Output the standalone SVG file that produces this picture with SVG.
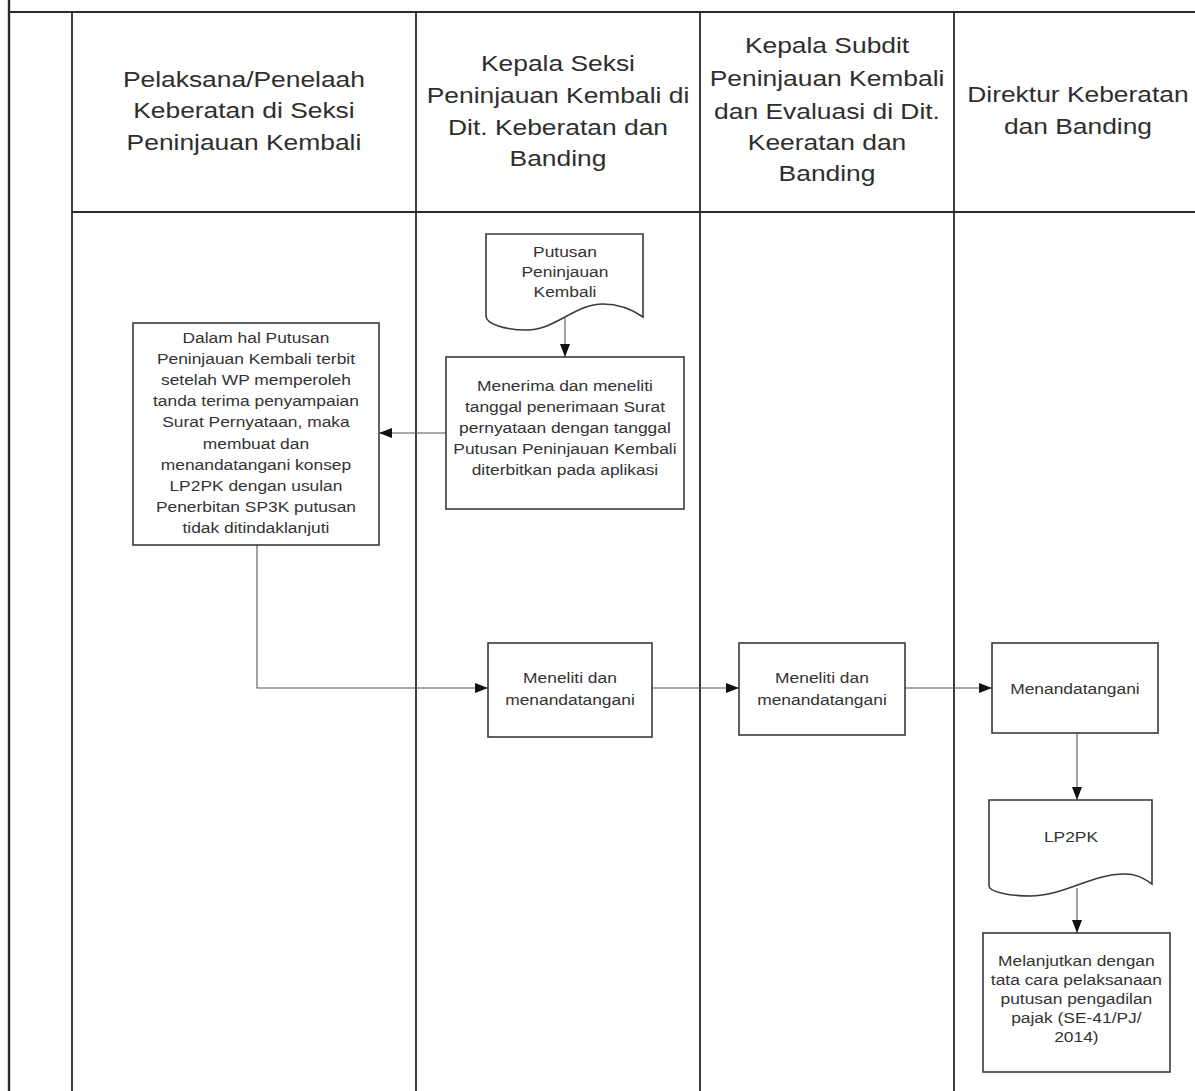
<svg xmlns="http://www.w3.org/2000/svg" width="1195" height="1091" viewBox="0 0 1195 1091">
<style>
.lane{stroke:#2a2a2a;stroke-width:1.8;fill:none}
.box{fill:#fff;stroke:#3a3a3a;stroke-width:1.6}
.con{stroke:#555;stroke-width:1.1;fill:none;marker-end:url(#ah)}
.h{font-family:"Liberation Sans",Arial,sans-serif;font-size:22px;fill:#2e2e2e;text-anchor:middle}
.t{font-family:"Liberation Sans",Arial,sans-serif;font-size:14.5px;fill:#333;text-anchor:middle}
</style>
<defs>
<marker id="ah" viewBox="0 0 13 10" refX="13" refY="5" markerWidth="13" markerHeight="10" markerUnits="userSpaceOnUse" orient="auto">
<path d="M0,0 L13,5 L0,10 Z" fill="#111"/>
</marker>
</defs>
<rect width="1195" height="1091" fill="#fff"/>
<g id="lanes">
<line class="lane" x1="9" y1="0" x2="9" y2="1091" style="stroke-width:2.4"/>
<line class="lane" x1="9" y1="12" x2="1195" y2="12" style="stroke-width:2.2"/>
<line class="lane" x1="72" y1="12" x2="72" y2="1091"/>
<line class="lane" x1="416" y1="12" x2="416" y2="1091"/>
<line class="lane" x1="700" y1="12" x2="700" y2="1091"/>
<line class="lane" x1="954" y1="12" x2="954" y2="1091"/>
<line class="lane" x1="72" y1="212" x2="1195" y2="212"/>
</g>
<g id="headers">
<text class="h" transform="scale(1.2,1)"><tspan x="203.3" y="87">Pelaksana/Penelaah</tspan><tspan x="203.3" y="118.5">Keberatan di Seksi</tspan><tspan x="203.3" y="150">Peninjauan Kembali</tspan></text>
<text class="h" transform="scale(1.2,1)"><tspan x="465" y="71">Kepala Seksi</tspan><tspan x="465" y="103">Peninjauan Kembali di</tspan><tspan x="465" y="135">Dit. Keberatan dan</tspan><tspan x="465" y="166">Banding</tspan></text>
<text class="h" transform="scale(1.2,1)"><tspan x="689.2" y="53">Kepala Subdit</tspan><tspan x="689.2" y="86">Peninjauan Kembali</tspan><tspan x="689.2" y="119">dan Evaluasi di Dit.</tspan><tspan x="689.2" y="150">Keeratan dan</tspan><tspan x="689.2" y="181">Banding</tspan></text>
<text class="h" transform="scale(1.2,1)"><tspan x="898.3" y="102">Direktur Keberatan</tspan><tspan x="898.3" y="134">dan Banding</tspan></text>
</g>
<g id="connectors">
<line class="con" x1="565" y1="318" x2="565" y2="357"/>
<line class="con" x1="446" y1="433" x2="379" y2="433"/>
<polyline class="con" points="257,545 257,688 488,688"/>
<line class="con" x1="652" y1="688" x2="739" y2="688"/>
<line class="con" x1="905" y1="688" x2="992" y2="688"/>
<line class="con" x1="1077" y1="733" x2="1077" y2="800"/>
<line class="con" x1="1077" y1="888" x2="1077" y2="933"/>
</g>
<g id="doc-putusan">
<path class="box" d="M486,234 H643 V317 C630,308 618,304 603,304 C575,304 555,330 527,330 C505,330 486,324 486,316 Z"/>
<text class="t" transform="scale(1.2,1)"><tspan x="470.8" y="257">Putusan</tspan><tspan x="470.8" y="277">Peninjauan</tspan><tspan x="470.8" y="297">Kembali</tspan></text>
</g>
<g id="box-menerima">
<rect class="box" x="446" y="357" width="238" height="152"/>
<text class="t" transform="scale(1.2,1)"><tspan x="470.8" y="391">Menerima dan meneliti</tspan><tspan x="470.8" y="412">tanggal penerimaan Surat</tspan><tspan x="470.8" y="433">pernyataan dengan tanggal</tspan><tspan x="470.8" y="454">Putusan Peninjauan Kembali</tspan><tspan x="470.8" y="475">diterbitkan pada aplikasi</tspan></text>
</g>
<g id="box-pelaksana">
<rect class="box" x="133" y="323" width="246" height="222"/>
<text class="t" transform="scale(1.2,1)"><tspan x="213.3" y="343">Dalam hal Putusan</tspan><tspan x="213.3" y="364">Peninjauan Kembali terbit</tspan><tspan x="213.3" y="385">setelah WP memperoleh</tspan><tspan x="213.3" y="406">tanda terima penyampaian</tspan><tspan x="213.3" y="427">Surat Pernyataan, maka</tspan><tspan x="213.3" y="449">membuat dan</tspan><tspan x="213.3" y="470">menandatangani  konsep</tspan><tspan x="213.3" y="491">LP2PK dengan usulan</tspan><tspan x="213.3" y="512">Penerbitan SP3K putusan</tspan><tspan x="213.3" y="533">tidak ditindaklanjuti</tspan></text>
</g>
<g id="box-seksi">
<rect class="box" x="488" y="643" width="164" height="94"/>
<text class="t" transform="scale(1.2,1)"><tspan x="475" y="683">Meneliti dan</tspan><tspan x="475" y="705">menandatangani</tspan></text>
</g>
<g id="box-subdit">
<rect class="box" x="739" y="643" width="166" height="92"/>
<text class="t" transform="scale(1.2,1)"><tspan x="685" y="683">Meneliti dan</tspan><tspan x="685" y="705">menandatangani</tspan></text>
</g>
<g id="box-direktur">
<rect class="box" x="992" y="643" width="166" height="90"/>
<text class="t" transform="scale(1.2,1)"><tspan x="895.8" y="694">Menandatangani</tspan></text>
</g>
<g id="doc-lp2pk">
<path class="box" d="M989,800 H1152 V884 C1142,877 1135,874 1125,874 C1090,874 1065,896 1030,896 C1010,896 989,892 989,886 Z"/>
<text class="t" transform="scale(1.2,1)"><tspan x="892.5" y="842">LP2PK</tspan></text>
</g>
<g id="box-melanjutkan">
<rect class="box" x="983" y="933" width="187" height="139"/>
<text class="t" transform="scale(1.2,1)"><tspan x="897" y="966">Melanjutkan dengan</tspan><tspan x="897" y="985">tata cara pelaksanaan</tspan><tspan x="897" y="1004">putusan pengadilan</tspan><tspan x="897" y="1023">pajak (SE-41/PJ/</tspan><tspan x="897" y="1042">2014)</tspan></text>
</g>
</svg>
